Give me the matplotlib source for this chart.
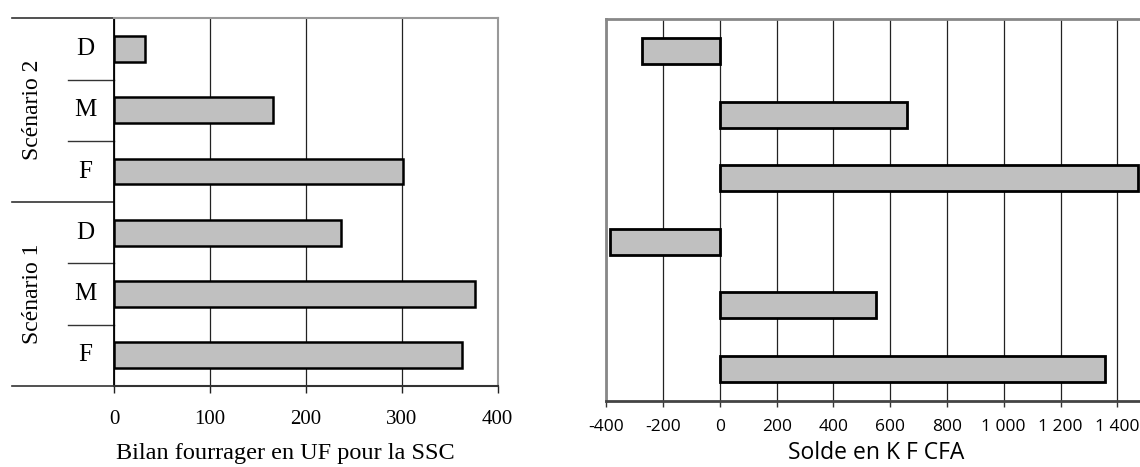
import matplotlib
matplotlib.use('Agg')
import matplotlib.pyplot as plt
import matplotlib.transforms as mtransforms

# ---- data (rows listed bottom to top) ----
rows = ['F', 'M', 'D', 'F', 'M', 'D']
scenarios = ['Scénario 1', 'Scénario 2']
bilan_uf = [363, 376, 237, 301, 166, 32]
solde_kfcfa = [1355, 549, -387, 1472, 661, -274]
left_ticks = [0, 100, 200, 300, 400]
left_ticklabels = ['0', '100', '200', '300', '400']
right_ticks = [-400, -200, 0, 200, 400, 600, 800, 1000, 1200, 1400]
right_ticklabels = ['-400', '-200', '0', '200', '400', '600', '800', '1 000', '1 200', '1 400']
left_xlabel = 'Bilan fourrager en UF pour la SSC'
right_xlabel = 'Solde en K F CFA'

W, H = 1140, 467
fig = plt.figure(figsize=(W / 100, H / 100), dpi=100)


def fx(px):
    return px / W


def fy(py):
    return 1 - py / H


SERIF = ['Liberation Serif', 'DejaVu Serif']
SANS = ['Open Sans', 'DejaVu Sans']
BAR = '#c0c0c0'

# ---------------- left panel ----------------
axL = fig.add_axes([fx(114.3), fy(386), fx(497.7 - 114.3), (386 - 18.3) / H])
ypos = list(range(len(rows)))
axL.barh(ypos, bilan_uf, height=0.42, color=BAR, edgecolor='black', linewidth=1.8, zorder=3)
axL.set_xlim(0, 400)
axL.set_ylim(-0.5, 5.5)
axL.set_xticks(left_ticks)
axL.set_xticklabels(left_ticklabels, fontfamily=SERIF, fontsize=15)
axL.set_yticks([])
axL.grid(axis='x', color='#222222', lw=0.9)
axL.set_axisbelow(True)
axL.tick_params(axis='x', length=5, width=1, color='#222222', pad=12)
axL.spines['left'].set_color('black')
axL.spines['left'].set_linewidth(1.3)
axL.spines['bottom'].set_color('#333333')
axL.spines['bottom'].set_linewidth(1.5)
for s in ('top', 'right'):
    axL.spines[s].set_color('#999999')
    axL.spines[s].set_linewidth(1.5)

tr = mtransforms.blended_transform_factory(axL.transAxes, axL.transData)
outer_x = (12.3 - 114.3) / (497.7 - 114.3)
inner_x = (68 - 114.3) / (497.7 - 114.3)
for b in [-0.5, 2.5, 5.5]:
    axL.plot([outer_x, 0], [b, b], transform=tr, clip_on=False, color='#333333', lw=1.2)
for b in [0.5, 1.5, 3.5, 4.5]:
    axL.plot([inner_x, 0], [b, b], transform=tr, clip_on=False, color='#333333', lw=1.0)

lab_x = (85 - 114.3) / (497.7 - 114.3)
for yv, r in zip(ypos, rows):
    axL.text(lab_x, yv, r, transform=tr, ha='center', va='center',
             fontfamily=SERIF, fontsize=18)
scen_x = (32 - 114.3) / (497.7 - 114.3)
for i, sc in enumerate(scenarios):
    axL.text(scen_x, 3 * i + 1, sc, transform=tr, ha='center', va='center',
             rotation=90, fontfamily=SERIF, fontsize=17)

fig.text(fx(285), fy(453), left_xlabel, ha='center', va='center',
         fontfamily=SERIF, fontsize=17.5)

# ---------------- right panel ----------------
axR = fig.add_axes([fx(606.3), fy(400.7), fx(1140 - 606.3), (400.7 - 19.3) / H])
axR.barh(ypos, solde_kfcfa, height=0.41, color=BAR, edgecolor='black', linewidth=2.0, zorder=3)
axR.set_xlim(-400, 1480)
axR.set_ylim(-0.5, 5.5)
axR.set_xticks(right_ticks)
axR.set_xticklabels(right_ticklabels, fontfamily=SANS, fontsize=12.5)
axR.set_yticks([])
axR.grid(axis='x', color='#222222', lw=0.9)
axR.set_axisbelow(True)
axR.tick_params(axis='x', length=4.5, width=1, color='#333333', pad=9)
for s in ('left', 'top'):
    axR.spines[s].set_color('#888888')
    axR.spines[s].set_linewidth(2)
axR.spines['bottom'].set_color('#444444')
axR.spines['bottom'].set_linewidth(2)
axR.spines['right'].set_visible(False)

fig.text(fx(876), fy(453), right_xlabel, ha='center', va='center',
         fontfamily=SANS, fontsize=16.5)

fig.savefig('out.png', dpi=100)
